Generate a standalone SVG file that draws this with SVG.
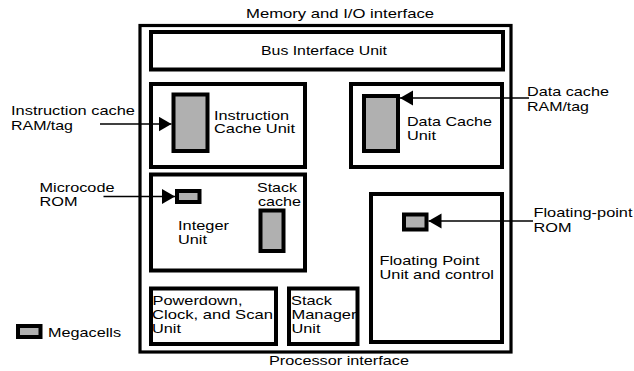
<svg xmlns="http://www.w3.org/2000/svg" width="634" height="371" viewBox="0 0 634 371">
<style>
text{font-family:"Liberation Sans",Arial,sans-serif;font-size:13.5px;fill:#000;}
.box{fill:none;stroke:#000;stroke-width:4;}
.outer{fill:none;stroke:#000;stroke-width:3.2;}
.cell{fill:#b0b0b0;stroke:#000;stroke-width:4;}
.conn{fill:none;stroke:#000;stroke-width:1.5;}
</style>
<defs>
<marker id="ah" markerUnits="userSpaceOnUse" markerWidth="14" markerHeight="16" refX="13" refY="7.5" orient="auto">
<path d="M0,0 L13,7.5 L0,15 z" fill="#000"/>
</marker>
</defs>
<rect width="634" height="371" fill="#fff"/>
<g id="chip">
<rect class="outer" x="140" y="25.5" width="371" height="326.5"/>
<text x="246" y="17.5" textLength="188" lengthAdjust="spacingAndGlyphs">Memory and I/O interface</text>
<text x="269" y="364.5" textLength="140" lengthAdjust="spacingAndGlyphs">Processor interface</text>
</g>
<g id="bus-interface-unit">
<rect class="box" x="151" y="32" width="352" height="37.5"/>
<text x="261" y="55" textLength="126" lengthAdjust="spacingAndGlyphs">Bus Interface Unit</text>
</g>
<g id="instruction-cache-unit">
<rect class="box" x="151" y="84" width="154" height="83"/>
<rect class="cell" x="173.5" y="94.5" width="34" height="56.5"/>
<text x="214" y="119.5" textLength="75" lengthAdjust="spacingAndGlyphs">Instruction</text>
<text x="214" y="133" textLength="81" lengthAdjust="spacingAndGlyphs">Cache Unit</text>
</g>
<g id="data-cache-unit">
<rect class="box" x="351" y="84" width="151" height="83"/>
<rect class="cell" x="364" y="96" width="34" height="55"/>
<text x="407" y="126" textLength="85" lengthAdjust="spacingAndGlyphs">Data Cache</text>
<text x="407" y="140" textLength="29" lengthAdjust="spacingAndGlyphs">Unit</text>
</g>
<g id="integer-unit">
<rect class="box" x="151" y="174.5" width="154" height="96"/>
<rect class="cell" x="177" y="191" width="22.5" height="11"/>
<rect class="cell" x="260.5" y="210.5" width="23" height="40.5"/>
<text x="257" y="192" textLength="40" lengthAdjust="spacingAndGlyphs">Stack</text>
<text x="258" y="205.5" textLength="43" lengthAdjust="spacingAndGlyphs">cache</text>
<text x="178" y="230" textLength="51" lengthAdjust="spacingAndGlyphs">Integer</text>
<text x="178" y="244" textLength="29" lengthAdjust="spacingAndGlyphs">Unit</text>
</g>
<g id="powerdown-unit">
<rect class="box" x="151" y="288.5" width="125" height="55.5"/>
<text x="152.5" y="305" textLength="90" lengthAdjust="spacingAndGlyphs">Powerdown,</text>
<text x="152" y="319" textLength="121" lengthAdjust="spacingAndGlyphs">Clock, and Scan</text>
<text x="152" y="333" textLength="29" lengthAdjust="spacingAndGlyphs">Unit</text>
</g>
<g id="stack-manager-unit">
<rect class="box" x="289" y="288.5" width="68.5" height="55.5"/>
<text x="291" y="305" textLength="41" lengthAdjust="spacingAndGlyphs">Stack</text>
<text x="291.5" y="319" textLength="65" lengthAdjust="spacingAndGlyphs">Manager</text>
<text x="291.5" y="333" textLength="29" lengthAdjust="spacingAndGlyphs">Unit</text>
</g>
<g id="floating-point-unit">
<rect class="box" x="371" y="194" width="131" height="148"/>
<rect class="cell" x="404" y="214.5" width="22.5" height="15"/>
<text x="379.5" y="265" textLength="100" lengthAdjust="spacingAndGlyphs">Floating Point</text>
<text x="379.5" y="279" textLength="114.5" lengthAdjust="spacingAndGlyphs">Unit and control</text>
</g>
<g id="labels">
<text x="11" y="115" textLength="124" lengthAdjust="spacingAndGlyphs">Instruction cache</text>
<text x="11" y="130" textLength="62" lengthAdjust="spacingAndGlyphs">RAM/tag</text>
<text x="527" y="96" textLength="82" lengthAdjust="spacingAndGlyphs">Data cache</text>
<text x="527" y="110.5" textLength="62" lengthAdjust="spacingAndGlyphs">RAM/tag</text>
<text x="39.5" y="192" textLength="75" lengthAdjust="spacingAndGlyphs">Microcode</text>
<text x="39.5" y="206" textLength="38" lengthAdjust="spacingAndGlyphs">ROM</text>
<text x="533.5" y="217" textLength="99" lengthAdjust="spacingAndGlyphs">Floating-point</text>
<text x="533.5" y="231.5" textLength="38" lengthAdjust="spacingAndGlyphs">ROM</text>
</g>
<g id="legend">
<rect class="cell" x="18" y="326" width="22.5" height="11"/>
<text x="48" y="337" textLength="73" lengthAdjust="spacingAndGlyphs">Megacells</text>
</g>
<g id="connectors">
<line class="conn" x1="100" y1="124" x2="171.5" y2="124" marker-end="url(#ah)"/>
<line class="conn" x1="529" y1="98" x2="400" y2="98" marker-end="url(#ah)"/>
<line class="conn" x1="103.5" y1="196.5" x2="175" y2="196.5" marker-end="url(#ah)"/>
<line class="conn" x1="533" y1="221" x2="428.5" y2="221" marker-end="url(#ah)"/>
</g>
</svg>
